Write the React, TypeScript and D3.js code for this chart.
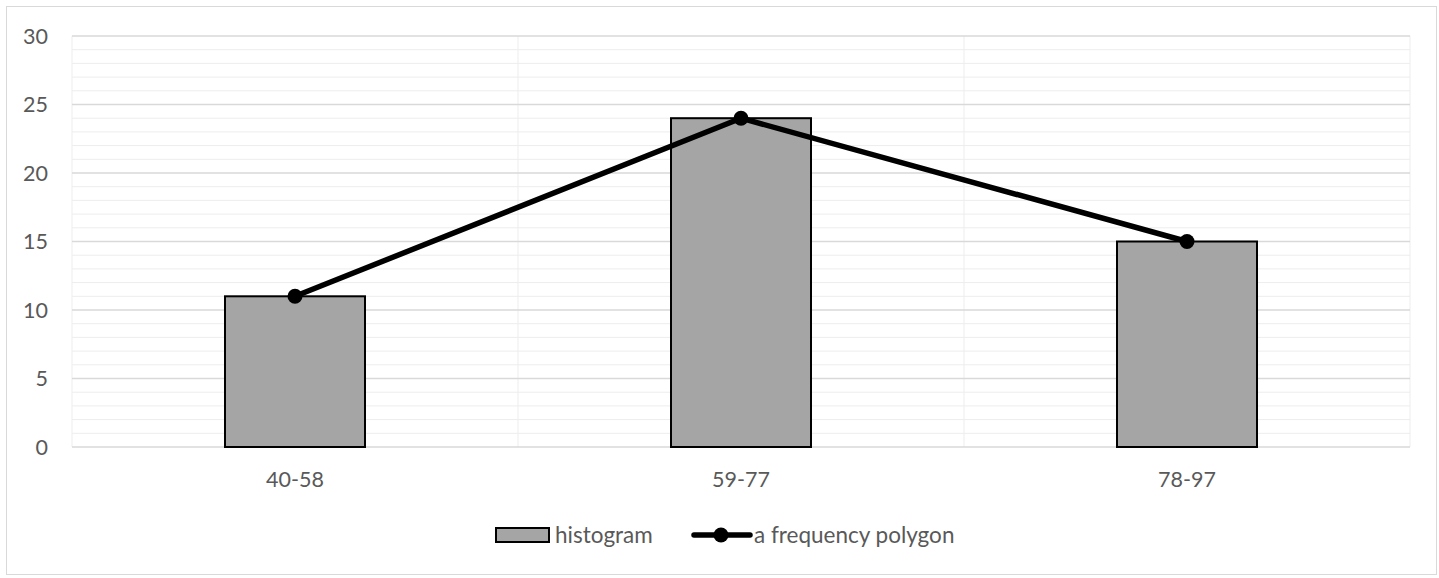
import React from "react";
import * as d3 from "d3";

const categories = ["40-58", "59-77", "78-97"];
const histogramValues = [11, 24, 15];
const polygonValues = [11, 24, 15];
const yTicks = [0, 5, 10, 15, 20, 25, 30];
const seriesNames = ["histogram", "a frequency polygon"];

const W = 1439;
const H = 578;
const FONT = "Lato, 'Open Sans', sans-serif";

export default function App() {
  const left = 72, right = 1410, top = 36, bottom = 447;
  const x = d3.scaleBand<string>().domain(categories).range([left, right]).paddingInner(0).paddingOuter(0);
  const y = d3.scaleLinear().domain([0, 30]).range([bottom, top]);
  const barW = 140;
  const minor = d3.range(0, 31, 1).filter((v) => v % 5 !== 0);
  const line = d3
    .line<number>()
    .x((_, i) => (x(categories[i]) as number) + x.bandwidth() / 2)
    .y((d) => y(d));
  const boundaries = categories.map((c) => x(c) as number).concat([right]);

  return (
    <svg width={W} height={H} style={{ position: "absolute", left: 0, top: 0, background: "#fff" }}>
      <rect x={6.5} y={6.5} width={1430} height={568} fill="#fff" stroke="#d9d9d9" strokeWidth={1} />
      {minor.map((v) => (
        <line key={"m" + v} x1={left} x2={right} y1={y(v)} y2={y(v)} stroke="#ededed" strokeWidth={1} />
      ))}
      {boundaries.map((b, i) => (
        <line key={"v" + i} x1={b} x2={b} y1={top} y2={bottom} stroke="#ededed" strokeWidth={1} />
      ))}
      {yTicks.map((v) => (
        <line key={"g" + v} x1={left} x2={right} y1={y(v)} y2={y(v)} stroke="#d9d9d9" strokeWidth={1.3} />
      ))}
      {yTicks.map((v) => (
        <text key={"t" + v} x={48} y={y(v)} dy="0.35em" textAnchor="end" fontFamily={FONT} fontSize={21.5} fill="#595959">
          {v}
        </text>
      ))}
      {categories.map((c, i) => {
        const cx = (x(c) as number) + x.bandwidth() / 2;
        return (
          <g key={c}>
            <rect
              x={cx - barW / 2}
              y={y(histogramValues[i])}
              width={barW}
              height={bottom - y(histogramValues[i])}
              fill="#a5a5a5"
              stroke="#000"
              strokeWidth={2}
            />
            <text x={cx} y={487} textAnchor="middle" fontFamily={FONT} fontSize={21.5} fill="#595959">
              {c}
            </text>
          </g>
        );
      })}
      <path d={line(polygonValues) || ""} fill="none" stroke="#000" strokeWidth={5.5} strokeLinejoin="round" />
      {polygonValues.map((v, i) => (
        <circle key={"p" + i} cx={(x(categories[i]) as number) + x.bandwidth() / 2} cy={y(v)} r={7.5} fill="#000" />
      ))}
      <g>
        <rect x={496} y={528} width={53} height={14} fill="#a5a5a5" stroke="#000" strokeWidth={2} />
        <text x={555} y={543} fontFamily={FONT} fontSize={22.5} fill="#595959">
          {seriesNames[0]}
        </text>
        <line x1={694} x2={750} y1={535} y2={535} stroke="#000" strokeWidth={5.5} strokeLinecap="round" />
        <circle cx={721} cy={535} r={7.5} fill="#000" />
        <text x={754} y={543} fontFamily={FONT} fontSize={22.5} fill="#595959">
          {seriesNames[1]}
        </text>
      </g>
    </svg>
  );
}
